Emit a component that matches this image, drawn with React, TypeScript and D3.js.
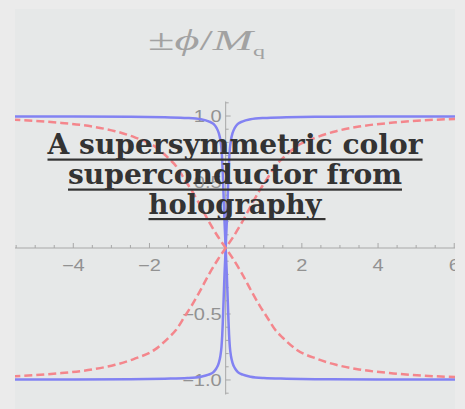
import React from "react";
import * as d3 from "d3";

// ---- data ----
// blue solid curve: phi_B(x) (odd, drawn as +phi and -phi)
const blueX = [-5.6, -4, -2.5, -1.6, -1.0, -0.65, -0.45, -0.32, -0.24, -0.18, -0.14, -0.11, -0.09, -0.075, -0.06, -0.045, -0.03, -0.015, 0,
  0.015, 0.03, 0.045, 0.06, 0.075, 0.09, 0.11, 0.14, 0.18, 0.24, 0.32, 0.45, 0.65, 1.0, 1.6, 2.5, 4, 6.1];
const blueY = [0.997, 0.996, 0.994, 0.99, 0.985, 0.975, 0.96, 0.94, 0.91, 0.87, 0.82, 0.75, 0.66, 0.56, 0.44, 0.32, 0.2, 0.1, 0,
  -0.1, -0.2, -0.32, -0.44, -0.56, -0.66, -0.75, -0.82, -0.87, -0.91, -0.94, -0.96, -0.975, -0.985, -0.99, -0.994, -0.996, -0.997];
// red dashed curve: phi_R(x)
const redX = [-5.6, -4.4, -3.5, -2.9, -2.4, -1.86, -1.5, -1.3, -1.1, -0.9, -0.7, -0.42, -0.2, 0,
  0.2, 0.42, 0.7, 0.9, 1.1, 1.3, 1.5, 1.86, 2.4, 2.9, 3.5, 4.4, 5.5, 6.1];
const redY = [0.973, 0.95, 0.92, 0.885, 0.84, 0.77, 0.68, 0.62, 0.53, 0.44, 0.34, 0.19, 0.085, 0,
  -0.085, -0.19, -0.34, -0.44, -0.53, -0.62, -0.68, -0.77, -0.84, -0.885, -0.92, -0.95, -0.972, -0.978];

const xTickValues = [-4, -2, 2, 4, 6];
const xTickLabels = ["\u22124", "\u22122", "2", "4", "6"];
const yTickValues = [-1, -0.5, 0.5, 1];
const yTickLabels = ["\u22121.0", "\u22120.5", "0.5", "1.0"];
const titleLines = ["A supersymmetric color", "superconductor from", "holography"];

const W = 465;
const H = 409;
const panel = { x: 15, y: 9, w: 440, h: 400 };

export default function App() {
  const x = d3.scaleLinear().domain([-5.53, 6.02]).range([15, 455]);
  const y = d3.scaleLinear().domain([-1.11, 1.11]).range([394.5, 101.5]);

  const line = d3
    .line<[number, number]>()
    .x((d) => x(d[0]))
    .y((d) => y(d[1]))
    .curve(d3.curveMonotoneX);

  const bluePos = line(blueX.map((v, i) => [v, blueY[i]] as [number, number])) || "";
  const blueNeg = line(blueX.map((v, i) => [v, -blueY[i]] as [number, number])) || "";
  const redPos = line(redX.map((v, i) => [v, redY[i]] as [number, number])) || "";
  const redNeg = line(redX.map((v, i) => [v, -redY[i]] as [number, number])) || "";

  const x0 = x(0);
  const y0 = y(0);
  const axisColor = "#a8a8a8";
  const labelColor = "#929292";

  const xMinor = d3.range(-5.5, 6.01, 0.5).filter((v) => Math.abs(v) > 1e-6);
  const yMinor = d3.range(-11, 12, 1).map((v) => v / 10).filter((v) => Math.abs(v) > 1e-6);

  const titleY = [154, 184, 213.5];
  const titleW = [375, 334, 173];

  return (
    <svg width={W} height={H} style={{ position: "absolute", left: 0, top: 0 }}>
      <defs>
        <clipPath id="panelClip">
          <rect x={panel.x} y={panel.y} width={panel.w} height={panel.h} />
        </clipPath>
      </defs>
      <rect x={0} y={0} width={W} height={H} fill="#ebebeb" />
      <rect x={panel.x} y={panel.y} width={panel.w} height={panel.h} fill="#e6e8e8" />

      <g clipPath="url(#panelClip)">
        {/* axis title */}
        <text
          x={148}
          y={50}
          fontFamily="'Liberation Serif', serif"
          fontSize={30}
          fill="#a2a2a2"
          textLength={117}
          lengthAdjust="spacingAndGlyphs"
        >
          <tspan>±</tspan>
          <tspan fontStyle="italic">ϕ</tspan>
          <tspan>/</tspan>
          <tspan fontStyle="italic">M</tspan>
          <tspan fontSize={15} dy={6}>q</tspan>
        </text>

        {/* x axis */}
        <line x1={panel.x} x2={panel.x + panel.w} y1={y0} y2={y0} stroke={axisColor} strokeWidth={1} />
        {xMinor.map((v) => {
          const major = Math.abs(v % 2) < 1e-6;
          return (
            <line key={"xm" + v} x1={x(v)} x2={x(v)} y1={y0} y2={y0 - (major ? 5 : 3)} stroke={axisColor} strokeWidth={1} />
          );
        })}
        {xTickValues.map((v, i) => (
          <text
            key={"xl" + v}
            transform={`translate(${x(v)},${y0 + 23}) scale(1.25,1)`}
            textAnchor="middle"
            fontFamily="'Liberation Sans', Arial, sans-serif"
            fontSize={16}
            fill={labelColor}
          >
            {xTickLabels[i]}
          </text>
        ))}

        {/* y axis */}
        <line x1={x0} x2={x0} y1={y(1.11)} y2={y(-1.11)} stroke={axisColor} strokeWidth={1} />
        {yMinor.map((v) => {
          const major = Math.abs((v * 10) % 5) < 1e-6;
          return (
            <line key={"ym" + v} x1={x0} x2={x0 + (major ? 5 : 3)} y1={y(v)} y2={y(v)} stroke={axisColor} strokeWidth={1} />
          );
        })}
        {yTickValues.map((v, i) => (
          <text
            key={"yl" + v}
            transform={`translate(${x0 - 4},${y(v) + 6}) scale(1.25,1)`}
            textAnchor="end"
            fontFamily="'Liberation Sans', Arial, sans-serif"
            fontSize={16}
            fill={labelColor}
          >
            {yTickLabels[i]}
          </text>
        ))}

        {/* curves */}
        <path d={bluePos} fill="none" stroke="#8282f2" strokeWidth={2.5} />
        <path d={blueNeg} fill="none" stroke="#8282f2" strokeWidth={2.5} />
        <path d={redPos} fill="none" stroke="#f4868c" strokeWidth={2.5} strokeDasharray="8,4" />
        <path d={redNeg} fill="none" stroke="#f4868c" strokeWidth={2.5} strokeDasharray="8,4" />
      </g>

      {/* overlay title */}
      {titleLines.map((t, i) => (
        <g key={"t" + i}>
          <text
            x={235}
            y={titleY[i]}
            textAnchor="middle"
            fontFamily="'DejaVu Serif', serif"
            fontWeight="bold"
            fontSize={27}
            fill="#333333"
            textLength={titleW[i]}
            lengthAdjust="spacingAndGlyphs"
          >
            {t}
          </text>
          <rect x={235 - titleW[i] / 2} y={titleY[i] + 4.5} width={titleW[i] + (i === 2 ? 4 : 0)} height={2.2} fill="#333333" />
        </g>
      ))}
    </svg>
  );
}
